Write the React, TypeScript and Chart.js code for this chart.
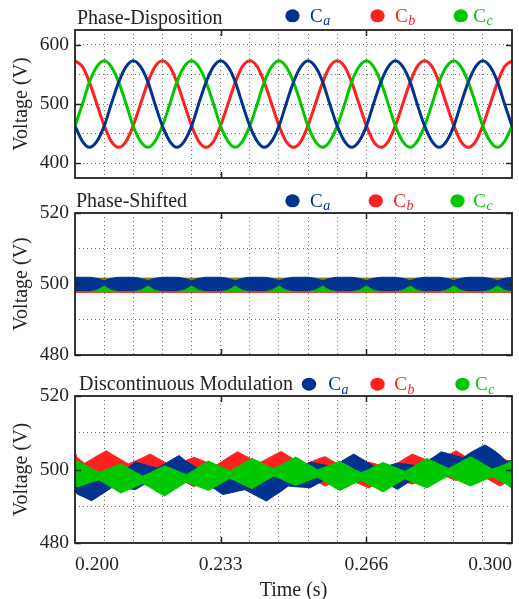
import React, { useEffect, useRef } from 'react';
import { Chart, registerables } from 'chart.js';

Chart.register(...registerables);

const FONT = '"Liberation Serif", "Times New Roman", serif';
const BLUE = '#00338f';
const RED = '#ff2020';
const GREEN = '#00c800';
const TEXT = '#242424';
const GRID = 'rgba(60,60,60,0.75)';

// ---------- shared labels ----------
const panelTitles = ['Phase-Disposition', 'Phase-Shifted', 'Discontinuous Modulation'];
const legendMain = ['C', 'C', 'C'];
const legendSubs = ['a', 'b', 'c'];
const seriesColors = [BLUE, RED, GREEN];
const xTickLabels = ['0.200', '0.233', '0.266', '0.300'];
const xMajorTicks = [0.23333, 0.26667];
const yGridPD = [400, 450, 500, 550, 600];
const yLabelsPD = [400, 500, 600];
const yGridNarrow = [480, 490, 500, 510, 520];
const yLabelsNarrow = [480, 500, 520];

// ---------- time samples (s) ----------
const timeA = [
  0.2000, 0.2017, 0.2033, 0.2050, 0.2067, 0.2083,
  0.2100, 0.2117, 0.2133, 0.2150, 0.2167, 0.2183,
  0.2200, 0.2217, 0.2233, 0.2250, 0.2267, 0.2283,
  0.2300, 0.2317, 0.2333, 0.2350, 0.2367, 0.2383,
  0.2400, 0.2417, 0.2433, 0.2450, 0.2467, 0.2483,
  0.2500, 0.2517, 0.2533, 0.2550, 0.2567, 0.2583,
  0.2600, 0.2617, 0.2633, 0.2650, 0.2667, 0.2683,
  0.2700, 0.2717, 0.2733, 0.2750, 0.2767, 0.2783,
  0.2800, 0.2817, 0.2833, 0.2850, 0.2867, 0.2883,
  0.2900, 0.2917, 0.2933, 0.2950, 0.2967, 0.2983,
  0.3000,
];

// ---------- Phase-Disposition (V) ----------
const pdRed = [
  573, 563, 537, 500, 463, 437, 427, 437, 463, 500, 537, 563,
  573, 563, 537, 500, 463, 437, 427, 437, 463, 500, 537, 563,
  573, 563, 537, 500, 463, 437, 427, 437, 463, 500, 537, 563,
  573, 563, 537, 500, 463, 437, 427, 437, 463, 500, 537, 563,
  573, 563, 537, 500, 463, 437, 427, 437, 463, 500, 537, 563,
  573,
];
const pdGreen = [
  463, 500, 537, 563, 573, 563, 537, 500, 463, 437, 427, 437,
  463, 500, 537, 563, 573, 563, 537, 500, 463, 437, 427, 437,
  463, 500, 537, 563, 573, 563, 537, 500, 463, 437, 427, 437,
  463, 500, 537, 563, 573, 563, 537, 500, 463, 437, 427, 437,
  463, 500, 537, 563, 573, 563, 537, 500, 463, 437, 427, 437,
  463,
];
const pdBlue = [
  463, 437, 427, 437, 463, 500, 537, 563, 573, 563, 537, 500,
  463, 437, 427, 437, 463, 500, 537, 563, 573, 563, 537, 500,
  463, 437, 427, 437, 463, 500, 537, 563, 573, 563, 537, 500,
  463, 437, 427, 437, 463, 500, 537, 563, 573, 563, 537, 500,
  463, 437, 427, 437, 463, 500, 537, 563, 573, 563, 537, 500,
  463,
];

// ---------- Phase-Shifted (V), envelopes ----------
const psBlueUpper = [
  501.9, 501.9, 501.9, 501.6, 500.9, 501.6,
  501.9, 501.9, 501.9, 501.6, 500.9, 501.6,
  501.9, 501.9, 501.9, 501.6, 500.9, 501.6,
  501.9, 501.9, 501.9, 501.6, 500.9, 501.6,
  501.9, 501.9, 501.9, 501.6, 500.9, 501.6,
  501.9, 501.9, 501.9, 501.6, 500.9, 501.6,
  501.9, 501.9, 501.9, 501.6, 500.9, 501.6,
  501.9, 501.9, 501.9, 501.6, 500.9, 501.6,
  501.9, 501.9, 501.9, 501.6, 500.9, 501.6,
  501.9, 501.9, 501.9, 501.6, 500.9, 501.6,
  501.9,
];
const psBlueLower = [
  498.1, 498.1, 498.1, 498.5, 499.7, 498.5,
  498.1, 498.1, 498.1, 498.5, 499.7, 498.5,
  498.1, 498.1, 498.1, 498.5, 499.7, 498.5,
  498.1, 498.1, 498.1, 498.5, 499.7, 498.5,
  498.1, 498.1, 498.1, 498.5, 499.7, 498.5,
  498.1, 498.1, 498.1, 498.5, 499.7, 498.5,
  498.1, 498.1, 498.1, 498.5, 499.7, 498.5,
  498.1, 498.1, 498.1, 498.5, 499.7, 498.5,
  498.1, 498.1, 498.1, 498.5, 499.7, 498.5,
  498.1, 498.1, 498.1, 498.5, 499.7, 498.5,
  498.1,
];
const psBandTime = [0.2, 0.3];
const psRedUpper = [501.65, 501.65];
const psRedLower = [497.65, 497.65];
const psGreenUpper = [501.4, 501.4];
const psGreenLower = [497.85, 497.85];

// ---------- Discontinuous Modulation (V), envelopes ----------
const timeDM = [
  0.2000,
  0.2005, 0.2022, 0.2038, 0.2055, 0.2072, 0.2088,
  0.2105, 0.2122, 0.2138, 0.2155, 0.2172, 0.2188,
  0.2205, 0.2222, 0.2238, 0.2255, 0.2272, 0.2288,
  0.2305, 0.2322, 0.2338, 0.2355, 0.2372, 0.2388,
  0.2405, 0.2422, 0.2438, 0.2455, 0.2472, 0.2488,
  0.2505, 0.2522, 0.2538, 0.2555, 0.2572, 0.2588,
  0.2605, 0.2622, 0.2638, 0.2655, 0.2672, 0.2688,
  0.2705, 0.2722, 0.2738, 0.2755, 0.2772, 0.2788,
  0.2805, 0.2822, 0.2838, 0.2855, 0.2872, 0.2888,
  0.2905, 0.2922, 0.2938, 0.2955, 0.2972, 0.2988,
  0.3000,
];
const dmGreenUpper = [
  502.2, 502.3, 501.3, 500.2, 499.2, 500.0, 500.7, 501.5, 500.4, 499.3, 498.2, 499.1,
  500.1, 501.0, 500.2, 499.4, 498.6, 499.8, 501.1, 502.3, 501.4, 500.5, 499.6, 500.7,
  501.9, 503.0, 502.1, 501.1, 500.2, 501.3, 502.3, 503.4, 502.2, 501.1, 499.9, 500.7,
  501.4, 502.2, 501.2, 500.1, 499.1, 500.0, 501.0, 501.9, 501.1, 500.3, 499.5, 500.6,
  501.8, 503.0, 502.1, 501.2, 500.3, 501.3, 502.4, 503.5, 502.4, 501.2, 500.1, 500.8,
  501.6, 502.4,
];
const dmGreenLower = [
  495.4, 495.3, 495.9, 496.6, 497.2, 496.0, 494.8, 493.6, 494.5, 495.3, 496.2, 495.1,
  493.9, 492.8, 494.1, 495.3, 496.6, 495.8, 495.1, 494.3, 495.4, 496.5, 497.6, 496.7,
  495.7, 494.8, 495.9, 497.1, 498.2, 497.4, 496.5, 495.7, 496.4, 497.2, 497.9, 496.7,
  495.5, 494.3, 495.2, 496.2, 497.1, 496.0, 495.0, 493.9, 495.1, 496.3, 497.5, 496.6,
  495.8, 495.0, 496.1, 497.2, 498.3, 497.3, 496.4, 495.5, 496.4, 497.2, 498.1, 497.0,
  495.9, 494.8,
];
const dmRedUpper = [
  504.8, 503.2, 501.7, 502.8, 504.0, 505.1, 503.9, 502.7, 501.5, 502.3, 503.2, 504.2,
  503.1, 502.0, 500.9, 501.7, 502.5, 503.3, 502.6, 501.8, 501.1, 502.3, 503.6, 504.8,
  503.8, 502.8, 501.8, 502.8, 503.9, 504.9, 503.7, 502.5, 501.3, 502.0, 502.8, 503.5,
  502.4, 501.3, 500.2, 500.6, 501.3, 502.0, 501.5, 501.0, 500.5, 501.7, 503.0, 504.2,
  503.4, 502.6, 501.8, 502.9, 504.0, 505.1, 503.9, 502.6, 501.4, 502.0, 502.7, 503.3,
  502.5, 502.0,
];
const dmRedLower = [
  497.5, 497.8, 499.3, 498.2, 497.0, 495.9, 497.0, 498.0, 499.1, 497.9, 496.8, 495.8,
  496.7, 497.6, 498.5, 497.4, 496.4, 495.3, 496.4, 497.6, 498.7, 497.9, 497.0, 496.2,
  497.2, 498.3, 499.4, 498.3, 497.3, 496.3, 497.2, 498.0, 498.9, 497.7, 496.6, 495.5,
  496.3, 497.0, 497.8, 496.7, 495.9, 495.0, 496.0, 497.1, 498.1, 497.4, 496.7, 496.0,
  497.1, 498.3, 499.4, 498.6, 497.8, 497.0, 497.7, 498.3, 499.0, 497.8, 496.7, 495.5,
  496.5, 497.2,
];
const dmBlueUpper = [
  497.0, 497.3, 497.9, 498.5, 498.3, 498.0, 497.8, 499.2, 500.6, 502.0, 501.5, 500.9,
  500.4, 501.5, 502.7, 503.8, 502.2, 501.0, 499.6, 499.7, 499.9, 500.0, 499.0, 497.9,
  496.9, 497.4, 497.8, 498.3, 498.2, 498.0, 497.9, 499.3, 500.6, 502.0, 501.6, 501.2,
  500.8, 501.9, 503.1, 504.2, 503.0, 501.8, 500.6, 500.6, 501.2, 501.8, 501.5, 501.2,
  500.9, 502.2, 503.5, 504.8, 504.3, 503.7, 503.2, 504.6, 505.7, 506.7, 505.5, 504.0,
  502.2, 502.5,
];
const dmBlueLower = [
  494.4, 493.3, 492.4, 491.5, 492.8, 494.1, 495.4, 495.1, 494.8, 494.5, 495.7, 496.8,
  498.0, 497.5, 497.0, 496.5, 496.6, 497.0, 497.2, 495.9, 494.5, 493.2, 493.6, 494.1,
  494.5, 493.5, 492.4, 491.4, 492.8, 494.1, 495.5, 495.3, 495.2, 495.0, 496.1, 497.2,
  498.4, 497.9, 497.5, 497.0, 497.4, 497.8, 498.2, 496.6, 495.6, 494.6, 495.9, 497.2,
  498.5, 498.2, 497.8, 497.5, 498.6, 499.7, 500.8, 500.4, 499.6, 498.8, 499.5, 499.8,
  499.8, 498.0,
];

// ---------- helpers ----------
function pts(xs: number[], ys: number[]) {
  return xs.map((x, i) => ({ x, y: ys[i] }));
}

function lineDs(label: string, xs: number[], ys: number[], color: string, order: number) {
  return {
    label,
    data: pts(xs, ys),
    borderColor: color,
    backgroundColor: color,
    borderWidth: 3,
    pointRadius: 0,
    cubicInterpolationMode: 'monotone',
    fill: false,
    order,
    clip: 0,
  };
}

function bandDs(label: string, xs: number[], up: number[], lo: number[], color: string, order: number) {
  return [
    {
      label: label + ' max',
      data: pts(xs, up),
      borderColor: color,
      borderWidth: 1,
      pointRadius: 0,
      tension: 0,
      fill: false,
      order,
      clip: 0,
    },
    {
      label: label + ' min',
      data: pts(xs, lo),
      borderColor: color,
      backgroundColor: color,
      borderWidth: 1,
      pointRadius: 0,
      tension: 0,
      fill: '-1',
      order,
      clip: 0,
    },
  ];
}

const headerPlugin = {
  id: 'header',
  afterDraw(chart: any, _a: any, opts: any) {
    const ctx = chart.ctx;
    ctx.save();
    ctx.textAlign = 'left';
    ctx.textBaseline = 'alphabetic';
    ctx.fillStyle = TEXT;
    ctx.font = `20px ${FONT}`;
    ctx.fillText(opts.title, opts.titleX, opts.titleY);
    opts.items.forEach((it: any) => {
      ctx.fillStyle = it.color;
      ctx.beginPath();
      ctx.ellipse(it.cx, opts.dotY, 7.2, 6.5, 0, 0, Math.PI * 2);
      ctx.fill();
      ctx.font = `19px ${FONT}`;
      ctx.fillText(it.main, it.tx, opts.textY);
      const w = ctx.measureText(it.main).width;
      ctx.font = `italic 14px ${FONT}`;
      ctx.fillText(it.sub, it.tx + w + 0.5, opts.textY + 3.5);
    });
    ctx.restore();
  },
};

const framePlugin = {
  id: 'frame',
  afterDatasetsDraw(chart: any, _a: any, opts: any) {
    const { ctx, chartArea } = chart;
    const { left, right, top, bottom } = chartArea;
    const xs = chart.scales.x;
    const ys = chart.scales.y;
    ctx.save();
    ctx.strokeStyle = '#222';
    ctx.lineWidth = 1.5;
    ctx.beginPath();
    opts.xMajor.forEach((v: number) => {
      const p = Math.round(xs.getPixelForValue(v)) + 0.5;
      ctx.moveTo(p, top);
      ctx.lineTo(p, top + 6);
      ctx.moveTo(p, bottom);
      ctx.lineTo(p, bottom - 6);
    });
    opts.yMajor.forEach((v: number) => {
      const p = Math.round(ys.getPixelForValue(v)) + 0.5;
      ctx.moveTo(left, p);
      ctx.lineTo(left + 6, p);
      ctx.moveTo(right, p);
      ctx.lineTo(right - 6, p);
    });
    ctx.stroke();
    ctx.lineWidth = 1.8;
    ctx.strokeRect(left, top, right - left, bottom - top);
    ctx.restore();
  },
};

function makeConfig(p: any) {
  return {
    type: 'line',
    data: { datasets: p.datasets },
    plugins: [headerPlugin, framePlugin],
    options: {
      responsive: false,
      animation: false,
      events: [],
      layout: { padding: { left: 0, right: 7, top: p.top, bottom: 0 } },
      plugins: {
        legend: { display: false },
        tooltip: { enabled: false },
        title: { display: false },
        header: p.header,
        frame: { xMajor: xMajorTicks, yMajor: p.yLabels },
      },
      scales: {
        x: {
          type: 'linear',
          min: 0.2,
          max: 0.3,
          afterFit: (s: any) => {
            s.height = p.xHeight;
            s.paddingLeft = 0;
            s.paddingRight = 0;
          },
          grid: { color: GRID, lineWidth: 1, drawTicks: false },
          border: { display: false, dash: [1, 3] },
          ticks: {
            display: p.showX,
            stepSize: 1 / 150,
            autoSkip: false,
            maxRotation: 0,
            align: 'inner',
            padding: 10,
            color: TEXT,
            font: { family: FONT, size: 19.5 },
            callback: (v: number) => {
              const idx = Math.round((v - 0.2) * 150);
              return idx % 5 === 0 ? xTickLabels[idx / 5] : '';
            },
          },
          title: {
            display: p.showX,
            text: 'Time (s)',
            color: TEXT,
            font: { family: FONT, size: 20, lineHeight: 1 },
            padding: { top: 0, bottom: -2 },
          },
        },
        y: {
          type: 'linear',
          min: p.yMin,
          max: p.yMax,
          afterFit: (s: any) => {
            s.width = 75;
            s.paddingTop = 0;
            s.paddingBottom = 0;
          },
          afterBuildTicks: (s: any) => {
            s.ticks = p.yGrid.map((v: number) => ({ value: v }));
          },
          grid: { color: GRID, lineWidth: 1, drawTicks: false },
          border: { display: false, dash: [1, 3] },
          ticks: {
            autoSkip: false,
            padding: 6,
            color: TEXT,
            font: { family: FONT, size: 19.5 },
            callback: (v: number) => (p.yLabels.includes(v) ? String(v) : ''),
          },
          title: {
            display: true,
            text: 'Voltage (V)',
            color: TEXT,
            font: { family: FONT, size: 20, lineHeight: 1 },
            padding: { top: 12, bottom: 0 },
          },
        },
      },
    },
  };
}

function legendItems(cx: number[], tx: number[]) {
  return seriesColors.map((c, i) => ({ color: c, cx: cx[i], tx: tx[i], main: legendMain[i], sub: legendSubs[i] }));
}

function configPD() {
  return makeConfig({
    top: 30,
    xHeight: 7,
    showX: false,
    yMin: 375,
    yMax: 625,
    yGrid: yGridPD,
    yLabels: yLabelsPD,
    header: {
      title: panelTitles[0], titleX: 77, titleY: 24, dotY: 15.8, textY: 21.7,
      items: legendItems([292.5, 377.5, 460.8], [310, 395, 473.3]),
    },
    datasets: [
      lineDs('Ca', timeA, pdBlue, BLUE, 0),
      lineDs('Cc', timeA, pdGreen, GREEN, 1),
      lineDs('Cb', timeA, pdRed, RED, 2),
    ],
  });
}

function configPS() {
  return makeConfig({
    top: 28,
    xHeight: 10,
    showX: false,
    yMin: 480,
    yMax: 520,
    yGrid: yGridNarrow,
    yLabels: yLabelsNarrow,
    header: {
      title: panelTitles[1], titleX: 76, titleY: 21.7, dotY: 15.8, textY: 21.7,
      items: legendItems([292.5, 375.8, 457.5], [310, 393.3, 473.3]),
    },
    datasets: [
      ...bandDs('Ca', timeA, psBlueUpper, psBlueLower, BLUE, 0),
      ...bandDs('Cc', psBandTime, psGreenUpper, psGreenLower, GREEN, 1),
      ...bandDs('Cb', psBandTime, psRedUpper, psRedLower, RED, 2),
    ],
  });
}

function configDM() {
  return makeConfig({
    top: 31,
    xHeight: 56,
    showX: true,
    yMin: 480,
    yMax: 520,
    yGrid: yGridNarrow,
    yLabels: yLabelsNarrow,
    header: {
      title: panelTitles[2], titleX: 79, titleY: 25, dotY: 19.2, textY: 25,
      items: legendItems([309, 377.5, 462.5], [328.3, 394.3, 475]),
    },
    datasets: [
      ...bandDs('Cc', timeDM, dmGreenUpper, dmGreenLower, GREEN, 0),
      ...bandDs('Ca', timeDM, dmBlueUpper, dmBlueLower, BLUE, 1),
      ...bandDs('Cb', timeDM, dmRedUpper, dmRedLower, RED, 2),
    ],
  });
}

function Panel({ make, top, height }: { make: () => any; top: number; height: number }) {
  const ref = useRef<HTMLCanvasElement | null>(null);
  useEffect(() => {
    const chart = new Chart(ref.current as HTMLCanvasElement, make());
    return () => chart.destroy();
  }, []);
  return (
    <canvas
      ref={ref}
      width={519}
      height={height}
      style={{ position: 'absolute', left: 0, top, width: 519, height, display: 'block' }}
    />
  );
}

export default function App() {
  return (
    <div style={{ position: 'absolute', left: 0, top: 0, width: 519, height: 599, background: '#fff', overflow: 'hidden' }}>
      <Panel make={configPD} top={0} height={185} />
      <Panel make={configPS} top={185} height={180} />
      <Panel make={configDM} top={365} height={234} />
    </div>
  );
}
